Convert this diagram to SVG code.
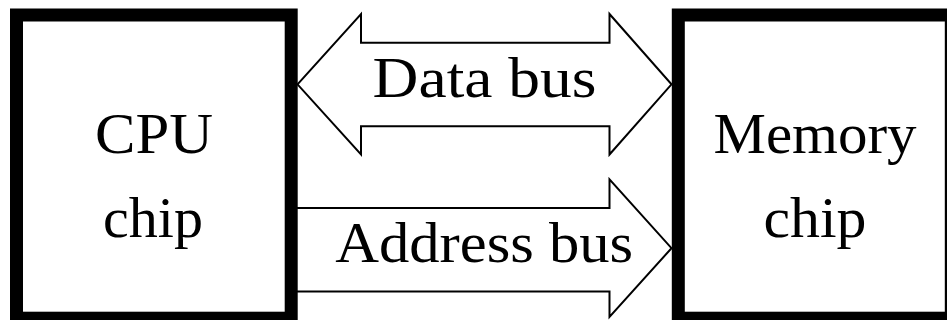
<svg xmlns="http://www.w3.org/2000/svg" width="947" height="320" viewBox="0 0 947 320">
<style>
.box{fill:#fff;stroke:#000;stroke-width:13}
.bus{fill:#fff;stroke:#000;stroke-width:2;stroke-linejoin:miter}
.lbl{font-family:"Liberation Serif","Times New Roman",serif;font-size:58px;fill:#000;text-anchor:middle}
</style>
<rect x="0" y="0" width="947" height="320" fill="#fff"/>
<g id="connectors">
<g id="data-bus">
<polygon class="bus" points="297.5,84.3 361,14 361,42.7 609.5,42.7 609.5,14 671.5,84.3 609.5,154.5 609.5,126.2 361,126.2 361,154.5"/>
<text class="lbl" x="484.6" y="96.7" textLength="224" lengthAdjust="spacingAndGlyphs">Data bus</text>
</g>
<g id="address-bus">
<path class="bus" d="M291,207.9 L609.5,207.9 L609.5,179.3 L671.5,248.2 L609.5,317 L609.5,291.5 L291,291.5"/>
<text class="lbl" x="484.2" y="261.7" textLength="298" lengthAdjust="spacingAndGlyphs">Address bus</text>
</g>
</g>
<g id="cpu">
<rect class="box" x="16.5" y="15" width="274.7" height="303.2"/>
<text class="lbl" x="154" y="153.3" textLength="118" lengthAdjust="spacingAndGlyphs">CPU</text>
<text class="lbl" x="153" y="236.5" textLength="100" lengthAdjust="spacingAndGlyphs">chip</text>
</g>
<g id="memory">
<rect class="box" x="678.3" y="15" width="273" height="303.2"/>
<text class="lbl" x="815" y="153.3" textLength="203" lengthAdjust="spacingAndGlyphs">Memory</text>
<text class="lbl" x="815" y="236.5" textLength="103" lengthAdjust="spacingAndGlyphs">chip</text>
</g>
</svg>
